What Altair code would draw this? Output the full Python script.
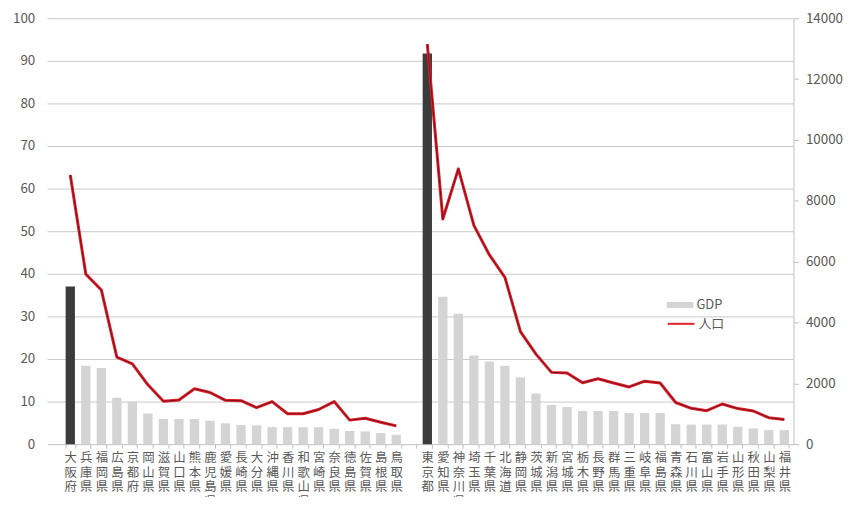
import altair as alt
import pandas as pd

left_prefs = ["大阪府", "兵庫県", "福岡県", "広島県", "京都府", "岡山県", "滋賀県", "山口県",
              "熊本県", "鹿児島県", "愛媛県", "長崎県", "大分県", "沖縄県", "香川県", "和歌山県",
              "宮崎県", "奈良県", "徳島県", "佐賀県", "島根県", "鳥取県"]
left_gdp = [37.0, 18.4, 17.9, 10.9, 10.0, 7.2, 5.9, 5.9, 5.9, 5.5, 4.9, 4.5, 4.4, 4.0, 4.0, 4.0,
            4.0, 3.6, 3.1, 3.0, 2.6, 2.2]
left_pop = [8850, 5590, 5070, 2860, 2640, 1950, 1410, 1450, 1820, 1700, 1440, 1430, 1200, 1400,
            1000, 1000, 1140, 1400, 790, 850, 720, 600]

right_prefs = ["東京都", "愛知県", "神奈川県", "埼玉県", "千葉県", "北海道", "静岡県", "茨城県",
               "新潟県", "宮城県", "栃木県", "長野県", "群馬県", "三重県", "岐阜県", "福島県",
               "青森県", "石川県", "富山県", "岩手県", "山形県", "秋田県", "山梨県", "福井県"]
right_gdp = [91.7, 34.6, 30.6, 20.8, 19.4, 18.4, 15.7, 11.9, 9.2, 8.7, 7.8, 7.8, 7.8, 7.3, 7.3,
             7.3, 4.7, 4.6, 4.6, 4.6, 4.1, 3.7, 3.3, 3.3]
right_pop = [13150, 7400, 9050, 7190, 6220, 5480, 3700, 2960, 2360, 2340, 2020, 2150, 2010, 1880,
             2070, 2010, 1370, 1180, 1100, 1320, 1170, 1090, 870, 810]

left_ticks = list(range(0, 101, 10))
right_ticks = list(range(0, 14001, 2000))

gap_label = " "
x_domain = left_prefs + [gap_label] + right_prefs

rows = []
for grp, prefs, gdp, pop in (("L", left_prefs, left_gdp, left_pop),
                             ("R", right_prefs, right_gdp, right_pop)):
    for i, (p, g, q) in enumerate(zip(prefs, gdp, pop)):
        rows.append({"pref": p, "gdp": g, "pop": q, "group": grp, "top": i == 0,
                     "s1": "GDP", "s2": "人口"})
df = pd.DataFrame(rows)
grid_df = pd.DataFrame({"gv": left_ticks[1:]})

FONT = "Noto Sans CJK JP"
TXT = "#595959"
GRID = "#c8c8c8"
PLOT_W, PLOT_H = 753, 430

x_enc = alt.X(
    "pref:N",
    scale=alt.Scale(domain=x_domain, paddingInner=0.4, paddingOuter=0.725, align=0.8),
    sort=None,
    axis=alt.Axis(
        title=None, labelAngle=0, labelBaseline="top", labelAlign="center",
        labelExpr="split(datum.label, '')", labelLineHeight=14.5, labelFontSize=12.5,
        labelFont=FONT, labelColor=TXT, labelOverlap=False, labelPadding=4,
        tickBand="extent", tickSize=4, tickColor="#bfbfbf", domainColor="#bfbfbf",
        grid=False,
    ),
)

y_gdp = alt.Y("gdp:Q", scale=alt.Scale(domain=[0, 100], nice=False),
              axis=alt.Axis(title=None, values=left_ticks, grid=False,
                            domain=False, ticks=False, labelPadding=13,
                            labelFontSize=13.5, labelFont=FONT, labelColor=TXT))
y_pop = alt.Y("pop:Q", scale=alt.Scale(domain=[0, 14000], nice=False),
              axis=alt.Axis(title=None, orient="right", values=right_ticks, format="d",
                            grid=False, domainColor="#bfbfbf", tickColor="#bfbfbf", tickSize=5,
                            labelPadding=7, labelFontSize=13.5, labelFont=FONT, labelColor=TXT))

base = alt.Chart(df)

grid_rules = alt.Chart(grid_df).mark_rule(strokeWidth=1, yOffset=0.5).encode(
    y=alt.Y("gv:Q", scale=alt.Scale(domain=[0, 100], nice=False), axis=None),
    stroke=alt.value(GRID),
)

bars_light = base.transform_filter("!datum.top").mark_bar().encode(
    x=x_enc,
    y=y_gdp,
    fill=alt.Fill("s1:N", scale=alt.Scale(domain=["GDP"], range=["#d4d4d4"]),
                  legend=alt.Legend(title=None, orient="none", legendX=625, legendY=276,
                                    symbolType="M-1,-0.22H1V0.22H-1Z", symbolSize=729,
                                    symbolStrokeWidth=0, labelFontSize=13, labelFont=FONT,
                                    labelColor=TXT, labelOffset=3, padding=0)),
)

bars_dark = base.transform_filter("datum.top").mark_bar(color="#3b3b3b").encode(
    x=x_enc,
    y=y_gdp,
)

line_under = base.mark_line(interpolate="linear", strokeWidth=3, strokeJoin="round").encode(
    x=x_enc,
    y=y_pop,
    stroke=alt.Stroke("s2:N", scale=alt.Scale(domain=["人口"], range=["#e0202a"]),
                      legend=alt.Legend(title=None, orient="none", legendX=625, legendY=294,
                                        symbolType="stroke", symbolSize=729,
                                        symbolStrokeWidth=2, labelFontSize=13, labelFont=FONT,
                                        labelColor=TXT, labelOffset=3, padding=0)),
    detail="group:N",
)

line_top = base.mark_line(interpolate="linear", strokeWidth=1, color="#7a1018",
                          strokeJoin="round").encode(
    x=x_enc,
    y=y_pop,
    detail="group:N",
)

chart = alt.layer(
    grid_rules,
    alt.layer(bars_light, bars_dark),
    alt.layer(line_under, line_top),
).resolve_scale(y="independent").properties(
    width=PLOT_W, height=PLOT_H,
    autosize=alt.AutoSizeParams(type="none"),
    padding={"left": 40, "top": 8, "right": 53, "bottom": 51},
    background="white",
).configure_view(stroke=None)

chart.save("out.html", embed_options={"renderer": "svg", "actions": False})
